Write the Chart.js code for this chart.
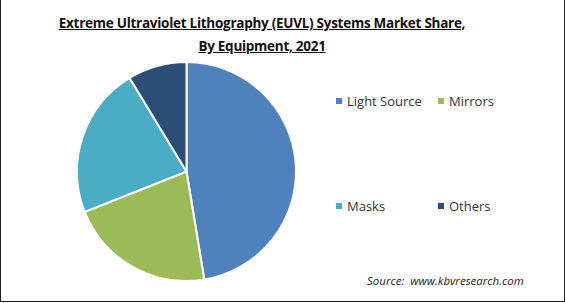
<!DOCTYPE html>
<html>
<head>
<meta charset="utf-8">
<script src="https://cdn.jsdelivr.net/npm/chart.js@4"></script>
<style>
    html, body { margin: 0; padding: 0; background: #fff; }
    #frame {
        position: relative;
        width: 563px;
        height: 301px;
        border-left: 1px solid #222;
        border-right: 1px solid #222;
        border-bottom: 1px solid #222;
        overflow: hidden;
        font-family: "Open Sans", "Liberation Sans", sans-serif;
    }
    #title {
        position: absolute;
        left: 0;
        width: 522px;
        top: 11px;
        text-align: center;
        font-weight: bold;
        font-size: 15px;
        line-height: 23px;
        text-decoration: underline;
        color: #111;
        letter-spacing: -0.3px;
        transform: scaleX(0.9);
        transform-origin: center top;
    }
    #pieBox { position: absolute; left: 75px; top: 61px; width: 221px; height: 221px; }
    .leg { position: absolute; font-size: 13px; color: #333; white-space: nowrap; }
    .leg span { display: inline-block; width: 6px; height: 6px; margin-right: 5px; vertical-align: 2px; }
    #source {
        position: absolute; left: 366px; top: 273px;
        font-size: 11.5px; font-style: italic; color: #222;
    }
</style>
</head>
<body>
<div id="frame">
    <div id="title">Extreme Ultraviolet Lithography (EUVL) Systems Market Share,<br>By Equipment, 2021</div>
    <div id="pieBox"><canvas id="shareChart"></canvas></div>
    <div id="legend"></div>
    <div id="source">Source:&nbsp; www.kbvresearch.com</div>
</div>
<script>
const categories = ["Light Source", "Mirrors", "Masks", "Others"];
const shares = [47.4, 21.6, 22.3, 8.7];
const colors = ["#4f81bd", "#9bbb59", "#4bacc6", "#2c4d75"];

document.addEventListener("DOMContentLoaded", function () {
    const ctx = document.getElementById("shareChart");
    new Chart(ctx, {
        type: "pie",
        data: {
            labels: categories,
            datasets: [
                {
                    data: shares,
                    backgroundColor: colors,
                    borderColor: "#ffffff",
                    borderWidth: 2,
                },
            ],
        },
        options: {
            responsive: true,
            maintainAspectRatio: false,
            animation: false,
            layout: { padding: 0 },
            plugins: {
                legend: { display: false },
                tooltip: { enabled: false },
            },
        },
    });

    // legend laid out 2 x 2 like the original
    const spots = [[335, 92], [437, 92], [335, 197], [437, 197]];
    const legend = document.getElementById("legend");
    categories.forEach(function (name, i) {
        const item = document.createElement("div");
        item.className = "leg";
        item.style.left = spots[i][0] + "px";
        item.style.top = spots[i][1] + "px";
        item.innerHTML = '<span style="background:' + colors[i] + '"></span>' + name;
        legend.appendChild(item);
    });
});
</script>
</body>
</html>
